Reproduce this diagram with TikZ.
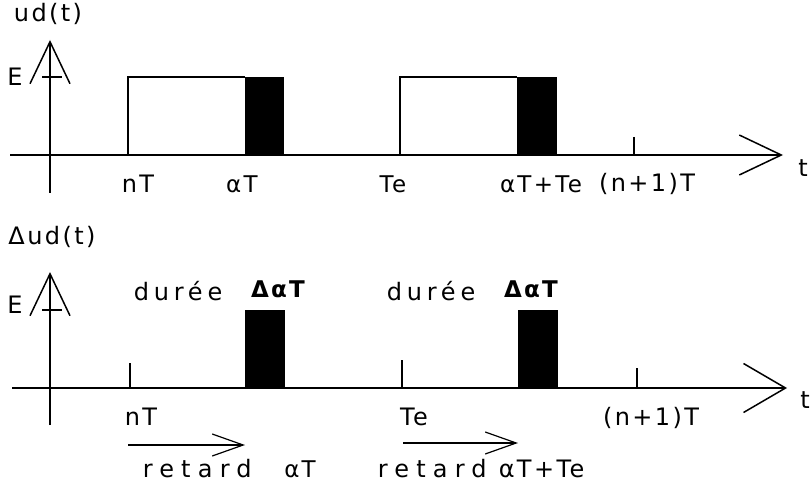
\documentclass[tikz,border=0pt]{standalone}
\usepackage[no-math]{fontspec}
\setmainfont{DejaVu Sans}[LetterSpace=10]
\usetikzlibrary{arrows.meta}
\begin{document}
\begin{tikzpicture}[x=1pt,y=-1pt,line width=1.5pt,
  lbl/.style={inner sep=0pt,font=\fontsize{24}{28}\selectfont},
  widelbl/.style={inner sep=0pt,font=\fontsize{24}{28}\selectfont\addfontfeature{LetterSpace=30}},
  durlbl/.style={inner sep=0pt,font=\fontsize{24}{28}\selectfont\addfontfeature{LetterSpace=20}},
  mlbl/.style={inner sep=0pt,font=\fontsize{23}{27}\selectfont},
  axisarrow/.style={-{Straight Barb[length=42,width=40,line width=1.5pt]}},
  retarrow/.style={-{Straight Barb[length=31,width=22,line width=1.2pt]}}]
\useasboundingbox (0,0) rectangle (810,486);
% ---------- top panel ----------
\coordinate (ya1) at (50,193); \coordinate (yb1) at (50,40);
\coordinate (xa1) at (10,155); \coordinate (xb1) at (783,155);
\draw[axisarrow] (ya1) -- (yb1);
\draw[axisarrow] (xa1) -- (xb1);
\coordinate (e1a) at (42,77); \coordinate (e1b) at (62,77);
\draw (e1a) -- (e1b);
\node[lbl] (ud) at (48,14) {ud(t)};
\node[lbl] (E1) at (15,77) {E};
\node[lbl] (t1) at (803,168) {t};
\draw (128,155) -- (128,77) -- (245,77);
\fill[black] (245,77) rectangle (284,155);
\draw (400,155) -- (400,77) -- (517,77);
\fill[black] (517,77) rectangle (557,155);
\coordinate (k1a) at (634,137); \coordinate (k1b) at (634,155);
\draw (k1a) -- (k1b);
\node[lbl] (nT1) at (138,184) {nT};
\node[mlbl] (aT1) at (242,184) {αT};
\node[mlbl] (Te1) at (393,184) {Te};
\node[mlbl] (aTTe1) at (541,184) {αT+Te};
\node[lbl] (np1) at (647,184) {(n+1)T};
% ---------- bottom panel ----------
\node[lbl] (dud) at (52,237) {Δud(t)};
\coordinate (ya2) at (50,425); \coordinate (yb2) at (50,272);
\coordinate (xa2) at (12,388); \coordinate (xb2) at (787,388);
\draw[axisarrow] (ya2) -- (yb2);
\draw[-{Straight Barb[length=42,width=49,line width=1.5pt]}] (xa2) -- (xb2);
\coordinate (e2a) at (42,310); \coordinate (e2b) at (62,310);
\draw (e2a) -- (e2b);
\node[lbl] (E2) at (15,305) {E};
\node[lbl] (t2) at (805,400) {t};
\coordinate (k2a) at (130,363); \coordinate (k2b) at (130,388);
\draw (k2a) -- (k2b);
\coordinate (k3a) at (402,360); \coordinate (k3b) at (402,388);
\draw (k3a) -- (k3b);
\coordinate (k4a) at (637,368); \coordinate (k4b) at (637,388);
\draw (k4a) -- (k4b);
\fill[black] (245,310) rectangle (285,388);
\fill[black] (518,310) rectangle (558,388);
\node[durlbl,anchor=west] (dur1) at (133,291) {durée};
\node[mlbl] (dat1) at (278,289) {\bfseries ΔαT};
\node[durlbl,anchor=west] (dur2) at (386,291) {durée};
\node[mlbl] (dat2) at (531,289) {\bfseries ΔαT};
\node[lbl] (nT2) at (141,417) {nT};
\node[lbl] (Te2) at (414,417) {Te};
\node[lbl] (np2) at (651,418) {(n+1)T};
\coordinate (r1a) at (128,445); \coordinate (r1b) at (245,445);
\draw[retarrow] (r1a) -- (r1b);
\coordinate (r2a) at (403,443); \coordinate (r2b) at (518,443);
\draw[retarrow] (r2a) -- (r2b);
\node[widelbl,anchor=west] (ret1) at (142,469) {retard};
\node[mlbl] (ret1b) at (300,469) {αT};
\node[widelbl,anchor=west] (ret2) at (377,469) {retard};
\node[lbl,anchor=west] (ret2b) at (498,469) {αT+Te};
\end{tikzpicture}
\end{document}
